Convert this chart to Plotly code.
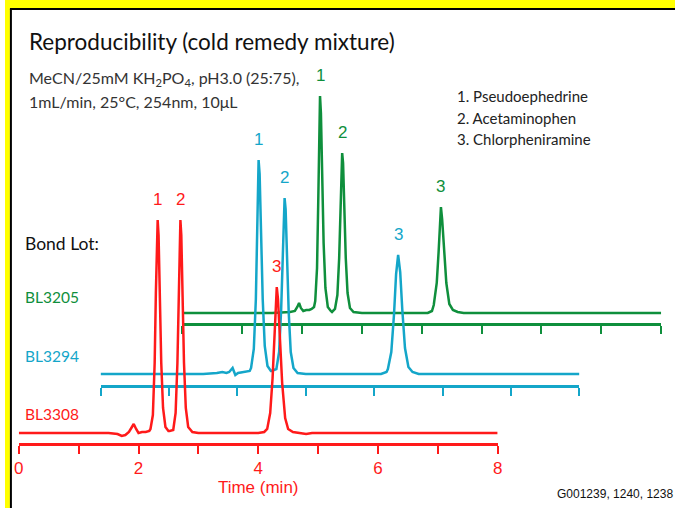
import plotly.graph_objects as go

W, H = 680, 508

RED = "#ff1a1a"
BLUE = "#14a6c9"
GREEN = "#0f8f3c"

# --- data (time in min, detector signal in arbitrary units) ---
red_time = [0, 1.50, 1.65, 1.72, 1.78, 1.84, 1.88, 1.92, 1.96, 2.00, 2.06, 2.12, 2.18,
            2.20, 2.24, 2.27, 2.29, 2.31, 2.32, 2.335, 2.355, 2.38, 2.41, 2.45, 2.50, 2.52,
            2.58, 2.62, 2.65, 2.67, 2.69, 2.70, 2.715, 2.735, 2.76, 2.79, 2.83, 2.90, 3.00,
            4.00, 4.10, 4.15, 4.20, 4.24, 4.27, 4.29, 4.31, 4.33, 4.36, 4.40, 4.45, 4.50,
            4.58, 4.70, 4.80, 4.90, 5.00, 8.00]
red_signal = [0, 0, -1, -3, -2, 1, 5, 9, 4, 0, 1, 1, 2,
              4, 18, 70, 140, 200, 213, 198, 140, 70, 25, 6, 2, 2,
              3, 20, 70, 140, 200, 213, 198, 140, 70, 25, 6, 1, 0,
              0, 1, 4, 20, 55, 100, 132, 146, 134, 100, 50, 15, 4,
              1, 0, -1, 0, 0, 0]

blue_time = [0, 1.50, 1.70, 1.78, 1.84, 1.88, 1.93, 1.97, 2.01, 2.10, 2.18,
             2.20, 2.24, 2.27, 2.29, 2.30, 2.31, 2.325, 2.345, 2.37, 2.40, 2.44, 2.49, 2.50,
             2.57, 2.61, 2.64, 2.66, 2.68, 2.69, 2.705, 2.725, 2.75, 2.78, 2.82, 2.88, 3.00,
             4.10, 4.18, 4.20, 4.25, 4.29, 4.32, 4.35, 4.38, 4.41, 4.45, 4.50, 4.56, 4.65, 7.00]
blue_signal = [0, 0, 1, 2, 1, 2, 6, -1, 1, 2, 3,
               6, 25, 75, 145, 190, 214, 200, 145, 75, 28, 8, 3, 3,
               5, 22, 65, 120, 165, 176, 165, 120, 62, 22, 6, 1, 0,
               0, 2, 5, 22, 60, 100, 119, 102, 65, 26, 7, 2, 0, 0]

green_time = [0, 1.50, 1.80, 1.88, 1.92, 1.95, 1.98, 2.02, 2.07, 2.12, 2.16, 2.20,
              2.22, 2.25, 2.27, 2.29, 2.30, 2.315, 2.335, 2.36, 2.39, 2.43, 2.48, 2.50,
              2.55, 2.59, 2.62, 2.64, 2.66, 2.67, 2.685, 2.705, 2.73, 2.76, 2.80, 2.86, 3.00,
              4.10, 4.17, 4.20, 4.25, 4.28, 4.30, 4.32, 4.34, 4.37, 4.41, 4.46, 4.52, 4.60,
              4.70, 8.00]
green_signal = [0, 0, 1, 2, 6, 10, 5, 2, 3, 3, 4, 6,
                12, 45, 110, 190, 217, 200, 140, 70, 25, 6, 2, 1,
                4, 18, 55, 105, 150, 160, 150, 108, 55, 20, 5, 1, 0,
                0, 2, 8, 30, 60, 90, 106, 94, 65, 30, 9, 3, 1,
                0, 0]

red_peaks = [2.32, 2.70, 4.31]
blue_peaks = [2.31, 2.69, 4.35]
green_peaks = [2.30, 2.67, 4.32]
peak_labels = ["1", "2", "3"]

red_ticks = [0, 1, 2, 3, 4, 5, 6, 7, 8]
red_ticktext = ["0", " ", "2", " ", "4", " ", "6", " ", "8"]
blue_ticks = [0, 1, 2, 3, 4, 5, 6, 7]
green_ticks = [0, 1, 2, 3, 4, 5, 6, 7, 8]

compounds = ["1. Pseudoephedrine", "2. Acetaminophen", "3. Chlorpheniramine"]
lots = ["BL3205", "BL3294", "BL3308"]


def px(x):
    return x / W


def py(y):
    return 1 - y / H


fig = go.Figure()
fig.add_trace(go.Scatter(x=green_time, y=green_signal, mode="lines", xaxis="x", yaxis="y",
                         line=dict(color=GREEN, width=2.5)))
fig.add_trace(go.Scatter(x=blue_time, y=blue_signal, mode="lines", xaxis="x2", yaxis="y2",
                         line=dict(color=BLUE, width=2.5)))
fig.add_trace(go.Scatter(x=red_time, y=red_signal, mode="lines", xaxis="x3", yaxis="y3",
                         line=dict(color=RED, width=2.5)))

common_x = dict(showline=True, linewidth=3, ticks="outside", ticklen=8, tickwidth=2,
                showgrid=False, zeroline=False, fixedrange=True)
common_y = dict(visible=False, showgrid=False, zeroline=False, fixedrange=True)

fig.update_layout(
    width=W, height=H, autosize=False,
    margin=dict(l=0, r=0, t=0, b=0),
    paper_bgcolor="white", plot_bgcolor="rgba(0,0,0,0)",
    showlegend=False,
    xaxis=dict(common_x, domain=[px(180), px(666)], range=[0, 8], anchor="y",
               linecolor=GREEN, tickcolor=GREEN, tickvals=green_ticks, showticklabels=False),
    yaxis=dict(common_y, domain=[py(323), 1], range=[-10, 313]),
    xaxis2=dict(common_x, domain=[px(97), px(583)], range=[0, 7], anchor="y2",
                linecolor=BLUE, tickcolor=BLUE, tickvals=blue_ticks, showticklabels=False),
    yaxis2=dict(common_y, domain=[py(385), 1], range=[-11, 374]),
    xaxis3=dict(common_x, domain=[px(14), px(500)], range=[0, 8], anchor="y3",
                linecolor=RED, tickcolor=RED, tickvals=red_ticks, ticktext=red_ticktext,
                tickfont=dict(family="Liberation Sans, Arial", size=17, color=RED),
                title=dict(text="Time (min)", standoff=4,
                           font=dict(family="Liberation Sans, Arial", size=17, color=RED))),
    yaxis3=dict(common_y, domain=[py(443), 1], range=[-10, 433]),
)

# peak numbers above each apex
for peaks, t, s, xa, ya, col in [(green_peaks, green_time, green_signal, "x", "y", GREEN),
                                 (blue_peaks, blue_time, blue_signal, "x2", "y2", BLUE),
                                 (red_peaks, red_time, red_signal, "x3", "y3", RED)]:
    for lab, pt in zip(peak_labels, peaks):
        fig.add_annotation(x=pt, y=s[t.index(pt)], xref=xa, yref=ya, text=lab, showarrow=False,
                           yshift=21, font=dict(family="Liberation Sans, Arial", size=17, color=col))

gill = "Lato, Open Sans, sans-serif"
fig.add_annotation(x=px(22), y=py(42), xref="paper", yref="paper", xanchor="left", yanchor="middle",
                   text="Reproducibility (cold remedy mixture)", showarrow=False,
                   font=dict(family=gill, size=22.5, color="#111111"))
fig.add_annotation(x=px(22), y=py(79), xref="paper", yref="paper", xanchor="left", yanchor="middle",
                   text="MeCN/25mM KH<sub>2</sub>PO<sub>4</sub>, pH3.0 (25:75),", showarrow=False,
                   font=dict(family=gill, size=16, color="#333333"))
fig.add_annotation(x=px(22), y=py(102), xref="paper", yref="paper", xanchor="left", yanchor="middle",
                   text="1mL/min, 25°C, 254nm, 10μL", showarrow=False,
                   font=dict(family=gill, size=16, color="#333333"))
for i, c in enumerate(compounds):
    fig.add_annotation(x=px(457), y=py(96 + 21.5 * i), xref="paper", yref="paper",
                       xanchor="left", yanchor="middle", text=c, showarrow=False,
                       font=dict(family=gill, size=15, color="#222222"))

fig.add_annotation(x=px(18), y=py(243), xref="paper", yref="paper", xanchor="left", yanchor="middle",
                   text="Bond Lot:", showarrow=False, font=dict(family=gill, size=17.5, color="#111111"))
for lot, col, yy in zip(lots, [GREEN, BLUE, RED], [297, 356, 414]):
    fig.add_annotation(x=px(18), y=py(yy), xref="paper", yref="paper", xanchor="left", yanchor="middle",
                       text=lot, showarrow=False, font=dict(family=gill, size=15.5, color=col))

fig.add_annotation(x=1, y=py(494), xref="paper", yref="paper", xanchor="right", yanchor="middle",
                   text="G001239, 1240, 1238", showarrow=False,
                   font=dict(family="Liberation Sans, Arial", size=12, color="#111111"))

# slide frame: yellow band with black edge on top and left
fig.add_shape(type="rect", xref="paper", yref="paper", x0=0, x1=1, y0=py(8), y1=1,
              fillcolor="#ffff00", line=dict(width=0), layer="above")
fig.add_shape(type="rect", xref="paper", yref="paper", x0=0, x1=px(5), y0=0, y1=1,
              fillcolor="#ffff00", line=dict(width=0), layer="above")
fig.add_shape(type="line", xref="paper", yref="paper", x0=px(5), x1=1, y0=py(9), y1=py(9),
              line=dict(color="black", width=2), layer="above")
fig.add_shape(type="line", xref="paper", yref="paper", x0=px(6), x1=px(6), y0=0, y1=py(9),
              line=dict(color="black", width=2), layer="above")

# page margins and scrollbars off so the 680x508 figure fills the window exactly
fig.write_html(
    "out.html",
    config={"displayModeBar": False},
    post_script=("document.body.style.margin='0';"
                 "document.documentElement.style.overflow='hidden';"
                 "document.body.style.overflow='hidden';"),
)
